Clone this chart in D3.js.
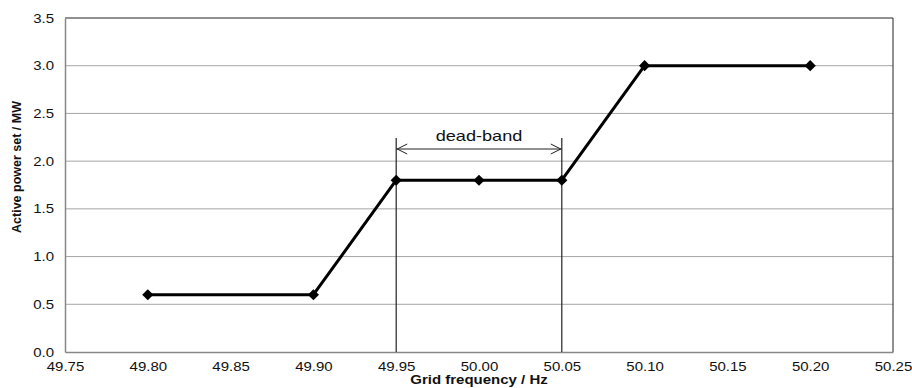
<!DOCTYPE html>
<html><head><meta charset="utf-8">
<script src="https://cdn.jsdelivr.net/npm/d3@7"></script>
<style>body{margin:0;background:#fff}svg{display:block}</style>
</head><body>
<svg id="c" width="912" height="388"></svg>
<script>
const freq = [49.80, 49.90, 49.95, 50.00, 50.05, 50.10, 50.20];
const power = [0.6, 0.6, 1.8, 1.8, 1.8, 3.0, 3.0];
const xTicks = [49.75, 49.80, 49.85, 49.90, 49.95, 50.00, 50.05, 50.10, 50.15, 50.20, 50.25];
const yTicks = [0, 0.5, 1.0, 1.5, 2.0, 2.5, 3.0, 3.5];
const deadBand = [49.95, 50.05];
const deadBandLabel = "dead-band";
const xTitle = "Grid frequency  / Hz";
const yTitle = "Active power set / MW";

const svg = d3.select("#c");
const L = 65, R = 893, T = 18, B = 352;
const x = d3.scaleLinear().domain([49.75, 50.25]).range([L, R]);
const y = d3.scaleLinear().domain([0, 3.5]).range([B, T]);
const font = "Arial, 'Liberation Sans', sans-serif";
const SX = 1.2;

// gridlines
svg.append("g").selectAll("line").data(yTicks.filter(d => d > 0 && d < 3.5)).join("line")
  .attr("x1", L).attr("x2", R).attr("y1", d => y(d)).attr("y2", d => y(d))
  .attr("stroke", "#a6a6a6").attr("stroke-width", 1);

// borders
svg.append("line").attr("x1", L).attr("x2", R).attr("y1", T).attr("y2", T).attr("stroke", "#222").attr("stroke-width", 1);
svg.append("line").attr("x1", R).attr("x2", R).attr("y1", T).attr("y2", B).attr("stroke", "#222").attr("stroke-width", 1);

// axes
const xAxis = svg.append("g").attr("transform", `translate(0,${B})`)
  .call(d3.axisBottom(x).tickValues(xTicks).tickFormat(d3.format(".2f")).tickSize(0).tickPadding(10));
xAxis.select(".domain").attr("stroke", "#888").attr("stroke-width", 1.5);
xAxis.selectAll("text").attr("font-family", font).attr("font-size", 12.5).attr("fill", "#111")
  .attr("transform", `scale(${SX},1)`);

const yAxis = svg.append("g").attr("transform", `translate(${L},0)`)
  .call(d3.axisLeft(y).tickValues(yTicks).tickFormat(d3.format(".1f")).tickSize(0).tickPadding(11));
yAxis.select(".domain").attr("stroke", "#888").attr("stroke-width", 1.5);
yAxis.selectAll("text").attr("font-family", font).attr("font-size", 12.5).attr("fill", "#111")
  .attr("x", -11 / SX).attr("transform", `scale(${SX},1)`);

// dead-band vertical lines
svg.append("g").selectAll("line").data(deadBand).join("line")
  .attr("x1", d => x(d)).attr("x2", d => x(d)).attr("y1", 138).attr("y2", B)
  .attr("stroke", "#222").attr("stroke-width", 1.2);

// arrow
const ay = 149;
svg.append("line").attr("x1", x(deadBand[0])).attr("x2", x(deadBand[1])).attr("y1", ay).attr("y2", ay)
  .attr("stroke", "#222").attr("stroke-width", 1);
svg.append("path").attr("d", `M${x(deadBand[0]) + 11},${ay - 5}L${x(deadBand[0]) + 1},${ay}L${x(deadBand[0]) + 11},${ay + 5}`)
  .attr("fill", "none").attr("stroke", "#222").attr("stroke-width", 1);
svg.append("path").attr("d", `M${x(deadBand[1]) - 11},${ay - 5}L${x(deadBand[1]) - 1},${ay}L${x(deadBand[1]) - 11},${ay + 5}`)
  .attr("fill", "none").attr("stroke", "#222").attr("stroke-width", 1);
const dbx = (x(deadBand[0]) + x(deadBand[1])) / 2;
svg.append("text").attr("transform", `translate(${dbx},141) scale(1.25,1)`)
  .attr("text-anchor", "middle").attr("font-family", font).attr("font-size", 14.5).attr("fill", "#111")
  .text(deadBandLabel);

// line
const pts = freq.map((f, i) => [f, power[i]]);
svg.append("path").datum(pts)
  .attr("d", d3.line().x(d => x(d[0])).y(d => y(d[1])))
  .attr("fill", "none").attr("stroke", "#000").attr("stroke-width", 3).attr("stroke-linejoin", "round");

svg.append("g").selectAll("path").data(pts).join("path")
  .attr("transform", d => `translate(${x(d[0])},${y(d[1])})`)
  .attr("d", d3.symbol(d3.symbolDiamond2, 80)())
  .attr("fill", "#000");

// titles
svg.append("text").attr("transform", `translate(${(L + R) / 2},384) scale(1.2,1)`).attr("text-anchor", "middle")
  .attr("font-family", font).attr("font-size", 12.5).attr("font-weight", "bold").attr("fill", "#111")
  .text(xTitle);
svg.append("text").attr("transform", `translate(21,167) rotate(-90)`).attr("text-anchor", "middle")
  .attr("font-family", "'Liberation Sans Narrow', Arial, sans-serif").attr("font-size", 12.5).attr("font-weight", "bold").attr("fill", "#111")
  .text(yTitle);
</script>
</body></html>
